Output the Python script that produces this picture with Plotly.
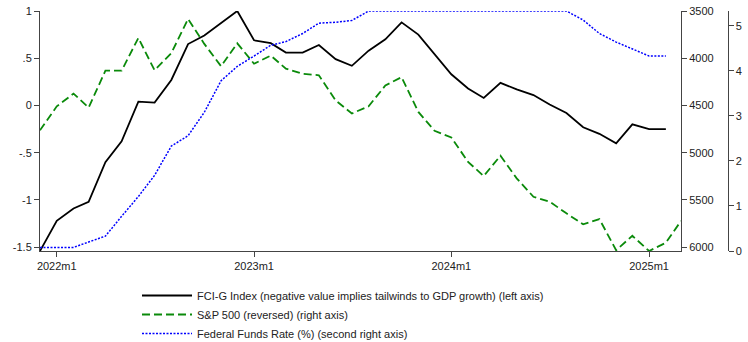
import plotly.graph_objects as go
import pandas as pd

# Monthly observations, 2021m12 - 2025m3
months = pd.date_range("2021-12-01", "2025-03-01", freq="MS")

# FCI-G index (left axis), through 2025m2
fci_g = [-1.54, -1.22, -1.09, -1.02, -0.60, -0.38, 0.04, 0.03, 0.27, 0.65, 0.74, 0.87, 1.00,
         0.69, 0.66, 0.56, 0.56, 0.64, 0.49, 0.42, 0.58, 0.70, 0.88, 0.75, 0.54,
         0.33, 0.18, 0.08, 0.24, 0.17, 0.11, 0.01, -0.08, -0.23, -0.30, -0.40, -0.20,
         -0.25, -0.25]

# S&P 500 monthly level (right axis, reversed), through 2025m3
sp500 = [4763, 4509, 4374, 4522, 4132, 4132, 3785, 4128, 3946, 3584, 3848, 4084, 3842,
         4058, 3972, 4110, 4165, 4180, 4446, 4585, 4509, 4288, 4200, 4568, 4768,
         4838, 5097, 5247, 5031, 5271, 5466, 5518, 5641, 5758, 5702, 6032, 5879,
         6040, 5952, 5722]

# Effective federal funds rate, % (second right axis), through 2025m2
fed_funds = [0.08, 0.08, 0.08, 0.20, 0.33, 0.77, 1.21, 1.68, 2.33, 2.56, 3.08, 3.78, 4.10,
             4.33, 4.57, 4.65, 4.83, 5.06, 5.08, 5.12, 5.33, 5.33, 5.33, 5.33, 5.33,
             5.33, 5.33, 5.33, 5.33, 5.33, 5.33, 5.33, 5.33, 5.13, 4.83, 4.64, 4.48,
             4.33, 4.33]

x_tick_dates = ["2022-01-01", "2023-01-01", "2024-01-01", "2025-01-01"]
x_tick_labels = ["2022m1", "2023m1", "2024m1", "2025m1"]
left_ticks = [-1.5, -1, -0.5, 0, 0.5, 1]
left_tick_labels = ["-1.5", "-1", "-.5", "0", ".5", "1"]
sp_ticks = [3500, 4000, 4500, 5000, 5500, 6000]
ff_ticks = [0, 1, 2, 3, 4, 5]

FONT = "Liberation Sans, Arial, Helvetica, sans-serif"
AXIS_COLOR = "#444444"
W, H = 748, 342
ML, MR, MT, MB = 40, 15, 11, 91
paper_w = W - ML - MR
paper_h = H - MT - MB
plot_right_px = 681
x_dom_end = (plot_right_px - ML) / paper_w
ff_axis_pos = (727.5 - ML) / paper_w

fig = go.Figure()
fig.add_trace(go.Scatter(
    x=months[:len(fci_g)], y=fci_g, mode="lines",
    name="FCI-G Index (negative value implies tailwinds to GDP growth) (left axis)",
    line=dict(color="black", width=1.8), yaxis="y"))
fig.add_trace(go.Scatter(
    x=months[:len(sp500)], y=sp500, mode="lines",
    name="S&P 500 (reversed) (right axis)",
    line=dict(color="#0a8a0a", width=1.8, dash="8px,4px"), yaxis="y2"))
fig.add_trace(go.Scatter(
    x=months[:len(fed_funds)], y=fed_funds, mode="lines",
    name="Federal Funds Rate (%) (second right axis)",
    line=dict(color="#0000ff", width=1.5, dash="2px,1.5px"), yaxis="y3"))

axis_common = dict(showline=True, linecolor=AXIS_COLOR, linewidth=1, ticks="outside",
                   tickcolor=AXIS_COLOR, ticklen=5, tickwidth=1, showgrid=False,
                   zeroline=False, tickfont=dict(family=FONT, size=11, color="#222222"))

fig.update_layout(
    width=W, height=H,
    margin=dict(l=ML, r=MR, t=MT, b=MB, autoexpand=False),
    paper_bgcolor="white", plot_bgcolor="white",
    font=dict(family=FONT, size=11, color="#222222"),
    xaxis=dict(domain=[0, x_dom_end], type="date",
               range=["2021-12-01", "2025-03-01"],
               tickvals=x_tick_dates, ticktext=x_tick_labels, **axis_common),
    yaxis=dict(range=[-1.54, 1.0], tickvals=left_ticks, ticktext=left_tick_labels,
               side="left", **axis_common),
    yaxis2=dict(range=[6040, 3500], tickvals=sp_ticks, overlaying="y", side="right",
                anchor="x", **axis_common),
    yaxis3=dict(range=[0, 5.33], tickvals=ff_ticks, overlaying="y", side="right",
                anchor="free", position=ff_axis_pos, **axis_common),
    showlegend=True,
    legend=dict(orientation="v", x=(137 - ML) / paper_w, xanchor="left",
                y=-(281 - (H - MB)) / paper_h, yanchor="top",
                font=dict(family=FONT, size=11, color="#222222"),
                bgcolor="rgba(0,0,0,0)", itemwidth=50, tracegroupgap=0),
)

fig.write_html("out.html")
